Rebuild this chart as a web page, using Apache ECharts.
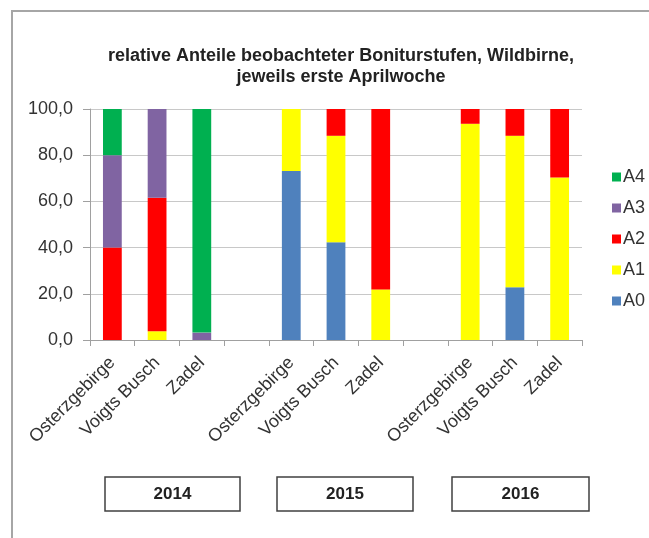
<!DOCTYPE html>
<html>
<head>
<meta charset="utf-8">
<script src="https://cdn.jsdelivr.net/npm/echarts@6/dist/echarts.min.js"></script>
<style>
  html, body { margin: 0; padding: 0; background: #fff; }
  #main { width: 649px; height: 538px; }
</style>
</head>
<body>
<div id="main"></div>
<script>
var chartDom = document.getElementById('main');
var myChart = echarts.init(chartDom);

// categories, '' = gap between years
var sites = ['Osterzgebirge', 'Voigts Busch', 'Zadel', '', 'Osterzgebirge', 'Voigts Busch', 'Zadel', ' ', 'Osterzgebirge', 'Voigts Busch', 'Zadel'];
var years = ['2014', '2015', '2016'];
var yTicks = [0, 20, 40, 60, 80, 100];

// relative shares in %
var a0 = [0, 0, 0, '-', 73.2, 42.3, 0, '-', 0, 22.8, 0];
var a1 = [0, 3.8, 0, '-', 26.8, 46.1, 21.9, '-', 93.6, 65.6, 70.3];
var a2 = [40, 57.8, 0, '-', 0, 11.6, 78.1, '-', 6.4, 11.6, 29.7];
var a3 = [40, 38.4, 3.2, '-', 0, 0, 0, '-', 0, 0, 0];
var a4 = [20, 0, 96.8, '-', 0, 0, 0, '-', 0, 0, 0];

var colors = {
    A0: '#4f81bd',
    A1: '#ffff00',
    A2: '#ff0000',
    A3: '#8064a2',
    A4: '#00b050'
};

var font = 'Liberation Sans, Arial, sans-serif';

function mkSeries(name, data) {
    return {
        name: name, type: 'bar', stack: 'total', data: data,
        barWidth: '42%',
        itemStyle: { color: colors[name] },
        emphasis: { disabled: true }
    };
}

// year boxes under the axis
var boxes = [[105, 135], [277, 136], [452, 137]];
var graphics = [{
    type: 'rect', shape: { x: 12, y: 11, width: 700, height: 600 },
    style: { fill: 'none', stroke: '#a6a6a6', lineWidth: 2 }, silent: true
}];
years.forEach(function (y, i) {
    graphics.push({
        type: 'rect', shape: { x: boxes[i][0], y: 477, width: boxes[i][1], height: 34 },
        style: { fill: '#fff', stroke: '#404040', lineWidth: 1.5 }
    });
    graphics.push({
        type: 'text', x: boxes[i][0] + boxes[i][1] / 2, y: 494,
        style: { text: y, font: 'bold 17px ' + font, fill: '#222', align: 'center', verticalAlign: 'middle' }
    });
});

var option = {
    animation: false,
    title: {
        text: 'relative Anteile beobachteter Boniturstufen, Wildbirne,\njeweils erste Aprilwoche',
        left: 336, top: 41, textAlign: 'center',
        textStyle: { fontFamily: font, fontSize: 18, fontWeight: 'bold', color: '#222', lineHeight: 21 }
    },
    legend: {
        orient: 'vertical', left: 607, top: 163,
        itemWidth: 9, itemHeight: 9, itemGap: 13,
        data: ['A4', 'A3', 'A2', 'A1', 'A0'],
        textStyle: { fontFamily: font, fontSize: 18, color: '#333', padding: [0, 0, 0, -3] },
        icon: 'rect'
    },
    grid: { left: 90, right: 67, top: 109, bottom: 198, containLabel: false },
    xAxis: {
        type: 'category', data: sites,
        axisLine: { lineStyle: { color: '#a0a0a0' } },
        axisTick: { show: true, length: 6, lineStyle: { color: '#a0a0a0' } },
        axisLabel: { rotate: 45, interval: 0, fontFamily: font, fontSize: 18, color: '#333', margin: 20 },
        splitLine: { show: false }
    },
    yAxis: {
        type: 'value', min: yTicks[0], max: yTicks[yTicks.length - 1], interval: yTicks[1] - yTicks[0],
        axisLine: { show: true, lineStyle: { color: '#a0a0a0' } },
        axisTick: { show: true, length: 7, lineStyle: { color: '#a0a0a0' } },
        axisLabel: {
            fontFamily: font, fontSize: 18, color: '#333', margin: 17,
            formatter: function (v) { return v.toFixed(1).replace('.', ','); }
        },
        splitLine: { lineStyle: { color: '#c8c8c8' } }
    },
    series: [
        mkSeries('A0', a0),
        mkSeries('A1', a1),
        mkSeries('A2', a2),
        mkSeries('A3', a3),
        mkSeries('A4', a4)
    ],
    graphic: graphics
};
option && myChart.setOption(option);
</script>
</body>
</html>
